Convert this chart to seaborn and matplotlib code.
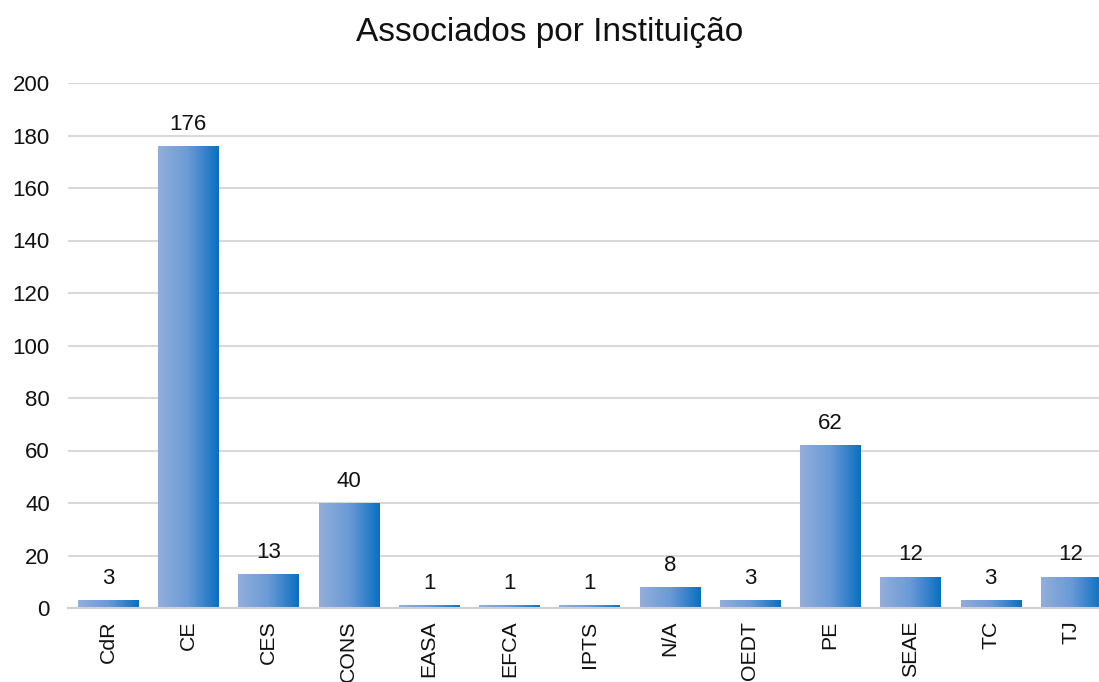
import matplotlib
matplotlib.use("Agg")
import matplotlib.pyplot as plt
import seaborn as sns
import numpy as np
import pandas as pd
from matplotlib.colors import LinearSegmentedColormap

categories = ["CdR", "CE", "CES", "CONS", "EASA", "EFCA", "IPTS", "N/A", "OEDT", "PE", "SEAE", "TC", "TJ"]
values = [3, 176, 13, 40, 1, 1, 1, 8, 3, 62, 12, 3, 12]
title = "Associados por Instituição"

sns.set_theme(style="white")
plt.rcParams['font.family'] = ['Liberation Sans', 'DejaVu Sans']

df = pd.DataFrame({"cat": categories, "val": values})

fig = plt.figure(figsize=(10.99, 6.82), dpi=100)
ax = fig.add_axes([68/1099, 74/682, (1111-68)/1099, 525/682])

sns.barplot(data=df, x="cat", y="val", ax=ax, width=0.75, color="#5B8FD0")

cmap = LinearSegmentedColormap.from_list("g", ["#93AEDC", "#6A9AD6", "#0A6FC0"])
grad = np.linspace(0, 1, 256).reshape(1, -1)
for p in ax.patches:
    x0, y0 = p.get_x(), p.get_y()
    w, h = p.get_width(), p.get_height()
    im = ax.imshow(grad, cmap=cmap, aspect="auto", extent=[x0, x0 + w, y0, y0 + h],
                   zorder=p.get_zorder(), interpolation="bicubic")
    im.set_clip_path(p)
    p.set_facecolor("none")
    p.set_edgecolor("none")

for i, v in enumerate(values):
    ax.annotate(str(v), (i, v), xytext=(0, 8), textcoords="offset points",
                ha="center", va="bottom", fontsize=16, color="#111111")

ax.set_xlim(-0.5, len(categories) - 0.5)
ax.set_ylim(0, 200)
ax.set_yticks(range(0, 201, 20))
ax.yaxis.grid(True, color="#D9D9D9", linewidth=1.5)
ax.set_axisbelow(True)
for s in ["left", "right", "top"]:
    ax.spines[s].set_visible(False)
ax.spines["bottom"].set_color("#D0D0D0")
ax.spines["bottom"].set_linewidth(1.5)
ax.tick_params(axis="y", length=0, pad=13, labelsize=16, labelcolor="#111111")
ax.tick_params(axis="x", length=0, pad=9, labelsize=15.3, labelcolor="#111111", rotation=90)
ax.set_xlabel("")
ax.set_ylabel("")
fig.text(0.5, 1 - 33/682, title, ha="center", va="center", fontsize=24, color="#111111")

fig.savefig("out.png", dpi=100)
